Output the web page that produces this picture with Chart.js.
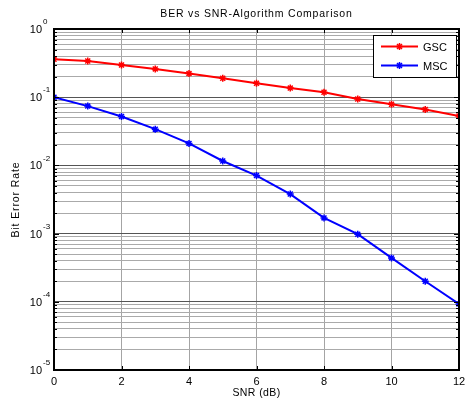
<!DOCTYPE html>
<html>
<head>
<meta charset="utf-8">
<title>BER vs SNR</title>
<script src="https://cdn.jsdelivr.net/npm/chart.js@4/dist/chart.umd.min.js"></script>
<style>
  html, body { margin: 0; padding: 0; background: #fff; }
  canvas { display: block; }
</style>
</head>
<body>
<canvas id="ber" width="465" height="405"></canvas>
<script>
// values
const snr = [0, 1, 2, 3, 4, 5, 6, 7, 8, 9, 10, 11, 12];
const gsc = [0.36, 0.34, 0.296, 0.26, 0.222, 0.19, 0.16, 0.136, 0.118, 0.094, 0.079, 0.066, 0.053];
const msc = [0.1, 0.074, 0.052, 0.034, 0.021, 0.0116, 0.0071, 0.0038, 0.0017, 0.00098, 0.00044, 0.0002, 0.000093];
const xTicks = [0, 2, 4, 6, 8, 10, 12];
const yExps = [-5, -4, -3, -2, -1, 0];

const FONT = '"Liberation Sans", Arial, sans-serif';

function isDecade(v) {
  const e = Math.log10(v);
  return Math.abs(e - Math.round(e)) < 1e-9;
}

const frame = {
  id: 'frame',
  afterDraw(chart) {
    const ctx = chart.ctx;
    const a = chart.chartArea;
    const xs = chart.scales.x;
    const ys = chart.scales.y;

    ctx.save();

    // inside tick marks
    ctx.strokeStyle = '#000';
    ctx.lineWidth = 1;
    ctx.beginPath();
    ys.ticks.forEach(t => {
      const y = Math.round(ys.getPixelForValue(t.value)) + 0.5;
      const len = isDecade(t.value) ? 5 : 3;
      ctx.moveTo(a.left, y); ctx.lineTo(a.left + len, y);
      ctx.moveTo(a.right, y); ctx.lineTo(a.right - len, y);
    });
    xTicks.forEach(v => {
      const x = Math.round(xs.getPixelForValue(v)) + 0.5;
      ctx.moveTo(x, a.bottom); ctx.lineTo(x, a.bottom - 4);
      ctx.moveTo(x, a.top); ctx.lineTo(x, a.top + 4);
    });
    ctx.stroke();

    // axes box
    ctx.lineWidth = 2;
    ctx.strokeRect(a.left, a.top, a.right - a.left, a.bottom - a.top);

    // tick labels
    ctx.fillStyle = '#000';
    ctx.font = '11px ' + FONT;
    ctx.textAlign = 'center';
    ctx.textBaseline = 'middle';
    xTicks.forEach(v => {
      ctx.fillText(String(v), xs.getPixelForValue(v), 382);
    });
    yExps.forEach(e => {
      const y = ys.getPixelForValue(Math.pow(10, e));
      ctx.font = '11px ' + FONT;
      ctx.textAlign = 'right';
      ctx.fillText('10', 42, y + 1);
      ctx.font = '8px ' + FONT;
      ctx.textAlign = 'left';
      ctx.fillText(String(e), 43, y - 7);
    });

    // titles
    ctx.font = '10.5px ' + FONT;
    ctx.textAlign = 'center';
    ctx.letterSpacing = '0.8px';
    ctx.fillText('BER vs SNR-Algorithm Comparison', (a.left + a.right) / 2, 14);
    ctx.letterSpacing = '0.4px';
    ctx.fillText('SNR (dB)', (a.left + a.right) / 2, 393);
    ctx.letterSpacing = '0.9px';
    ctx.save();
    ctx.translate(16, (a.top + a.bottom) / 2);
    ctx.rotate(-Math.PI / 2);
    ctx.fillText('Bit Error Rate', 0, 0);
    ctx.restore();
    ctx.letterSpacing = '0px';

    // legend
    const lx = 373.5, ly = 35.5, lw = 83, lh = 42;
    ctx.fillStyle = '#fff';
    ctx.fillRect(lx, ly, lw, lh);
    ctx.strokeStyle = '#000';
    ctx.lineWidth = 1;
    ctx.strokeRect(lx, ly, lw, lh);
    chart.data.datasets.forEach((ds, i) => {
      const y = 46.5 + i * 19;
      ctx.strokeStyle = ds.borderColor;
      ctx.lineWidth = 2;
      ctx.beginPath();
      ctx.moveTo(381, y); ctx.lineTo(418, y);
      ctx.stroke();
      ctx.lineWidth = 1.5;
      Chart.helpers.drawPoint(ctx, { pointStyle: 'star', radius: 3.5, rotation: 0, borderWidth: 1.5 }, 399.5, y);
      ctx.fillStyle = '#000';
      ctx.font = '11px ' + FONT;
      ctx.textAlign = 'left';
      ctx.fillText(ds.label, 423, y + 1);
    });

    ctx.restore();
  }
};

new Chart(document.getElementById('ber'), {
  type: 'line',
  data: {
    datasets: [
      {
        label: 'GSC',
        data: snr.map((x, i) => ({ x: x, y: gsc[i] })),
        borderColor: '#ff0000',
        backgroundColor: '#ff0000',
        borderWidth: 2,
        pointStyle: 'star',
        pointRadius: 3.5,
        pointBorderWidth: 1.5,
        fill: false
      },
      {
        label: 'MSC',
        data: snr.map((x, i) => ({ x: x, y: msc[i] })),
        borderColor: '#0000ff',
        backgroundColor: '#0000ff',
        borderWidth: 2,
        pointStyle: 'star',
        pointRadius: 3.5,
        pointBorderWidth: 1.5,
        fill: false
      }
    ]
  },
  options: {
    responsive: false,
    animation: false,
    layout: { padding: { top: 29, right: 6, left: 0, bottom: 0 } },
    plugins: {
      legend: { display: false },
      title: { display: false },
      tooltip: { enabled: false }
    },
    scales: {
      x: {
        type: 'linear',
        min: 0,
        max: 12,
        ticks: { display: false, stepSize: 2 },
        grid: { color: '#a4a4a4', lineWidth: 1, drawTicks: false },
        border: { display: false },
        afterFit(scale) { scale.height = 35; }
      },
      y: {
        type: 'logarithmic',
        min: 1e-5,
        max: 1,
        ticks: { display: false },
        grid: {
          drawTicks: false,
          color: c => (c.tick && isDecade(c.tick.value)) ? '#555555' : '#aaaaaa',
          lineWidth: 1
        },
        border: { display: false },
        afterBuildTicks(scale) {
          const t = [];
          for (let e = -5; e < 0; e++) {
            for (let m = 1; m < 10; m++) t.push({ value: m * Math.pow(10, e) });
          }
          t.push({ value: 1 });
          scale.ticks = t;
        },
        afterFit(scale) { scale.width = 54; }
      }
    }
  },
  plugins: [frame]
});
</script>
</body>
</html>
